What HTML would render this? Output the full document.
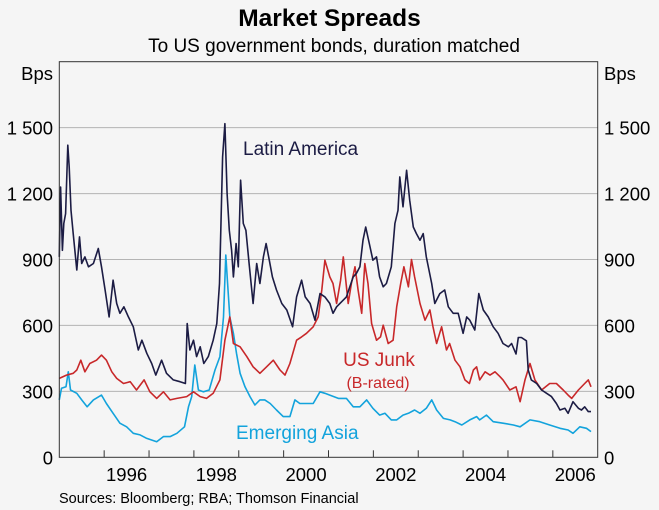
<!DOCTYPE html>
<html><head><meta charset="utf-8"><style>
body{margin:0;background:#f5f5f5;}
svg{display:block;font-family:"Liberation Sans",Arial,sans-serif;}
</style></head><body>
<svg id="chart" width="659" height="510">
<rect x="0" y="0" width="659" height="510" fill="#f5f5f5"/>
<text x="329.5" y="26" text-anchor="middle" font-size="24.5" font-weight="bold" fill="#000">Market Spreads</text>
<text x="334" y="52" text-anchor="middle" font-size="19" fill="#000">To US government bonds, duration matched</text>
<text x="53" y="80" text-anchor="end" font-size="18.5">Bps</text>
<text x="604" y="80" font-size="18.5">Bps</text>
<g id="grid"></g>
<g id="series"></g>
<rect x="59.3" y="61.7" width="538.4" height="395.6" fill="none" stroke="#333" stroke-width="1"/>
<g id="axes"></g>
<text x="243" y="155" font-size="19" fill="#1c1c44">Latin America</text>
<text x="379" y="366" text-anchor="middle" font-size="19" fill="#c8282a">US Junk</text>
<text x="378" y="388" text-anchor="middle" font-size="16" fill="#c8282a">(B-rated)</text>
<text x="236" y="439" font-size="19" fill="#13a3dc">Emerging Asia</text>
<text x="59" y="503" font-size="14.5">Sources: Bloomberg; RBA; Thomson Financial</text>
</svg>
<script>
const yTicks=[0,300,600,900,1200,1500];
const yTickLabels=["0","300","600","900","1 200","1 500"];
const xYears=[1996,1998,2000,2002,2004,2006];
const latinDates=[1995.00,1995.03,1995.07,1995.10,1995.14,1995.19,1995.22,1995.26,1995.31,1995.39,1995.45,1995.50,1995.57,1995.65,1995.76,1995.87,1995.94,1996.02,1996.11,1996.20,1996.28,1996.35,1996.44,1996.54,1996.65,1996.76,1996.84,1996.95,1997.06,1997.15,1997.28,1997.39,1997.54,1997.69,1997.81,1997.85,1997.91,1997.99,1998.06,1998.14,1998.22,1998.32,1998.43,1998.51,1998.57,1998.64,1998.69,1998.74,1998.79,1998.84,1998.88,1998.94,1998.99,1999.04,1999.10,1999.16,1999.23,1999.32,1999.40,1999.47,1999.55,1999.61,1999.68,1999.75,1999.84,1999.96,2000.07,2000.20,2000.29,2000.40,2000.48,2000.59,2000.70,2000.81,2000.92,2001.03,2001.10,2001.18,2001.40,2001.55,2001.62,2001.70,2001.77,2001.83,2001.91,2001.99,2002.07,2002.14,2002.22,2002.29,2002.40,2002.48,2002.55,2002.59,2002.66,2002.74,2002.81,2002.89,2002.96,2003.04,2003.11,2003.18,2003.30,2003.37,2003.48,2003.59,2003.67,2003.78,2003.89,2004.00,2004.08,2004.15,2004.26,2004.35,2004.45,2004.56,2004.67,2004.78,2004.89,2005.01,2005.08,2005.18,2005.23,2005.30,2005.41,2005.45,2005.52,2005.64,2005.75,2005.86,2005.97,2006.08,2006.16,2006.27,2006.34,2006.45,2006.57,2006.64,2006.71,2006.79,2006.85];
const latinValues=[912,1230,942,1064,1109,1420,1321,1124,1018,852,1003,882,912,867,882,950,867,761,639,806,700,655,685,639,594,488,533,473,427,374,442,382,352,344,336,609,488,533,458,503,427,458,533,609,791,1367,1518,1200,1033,942,821,973,867,1261,1064,1033,882,700,882,791,912,973,897,821,761,700,670,594,730,806,730,700,624,745,730,700,655,685,730,821,836,867,988,1048,973,897,912,821,776,791,867,1064,1124,1276,1140,1306,1170,1048,1018,988,1018,912,791,700,745,761,685,655,655,564,639,624,579,745,670,639,594,564,518,503,518,470,545,545,530,397,352,336,306,291,276,245,215,223,200,253,223,215,230,208,208];
const junkDates=[1995.00,1995.16,1995.31,1995.39,1995.48,1995.57,1995.68,1995.83,1995.94,1996.05,1996.17,1996.28,1996.43,1996.58,1996.72,1996.89,1997.02,1997.17,1997.32,1997.47,1997.62,1997.84,1997.99,1998.14,1998.28,1998.43,1998.58,1998.69,1998.80,1998.88,1999.03,1999.18,1999.32,1999.47,1999.62,1999.77,1999.92,2000.03,2000.14,2000.29,2000.40,2000.51,2000.66,2000.77,2000.85,2000.92,2001.03,2001.10,2001.18,2001.27,2001.33,2001.44,2001.51,2001.59,2001.66,2001.74,2001.81,2001.88,2001.96,2002.07,2002.16,2002.22,2002.33,2002.44,2002.52,2002.61,2002.68,2002.78,2002.85,2002.92,2003.04,2003.15,2003.26,2003.33,2003.41,2003.52,2003.63,2003.70,2003.82,2003.93,2004.04,2004.14,2004.23,2004.30,2004.37,2004.49,2004.60,2004.71,2004.82,2004.89,2005.04,2005.18,2005.27,2005.38,2005.49,2005.60,2005.75,2005.93,2006.08,2006.23,2006.34,2006.42,2006.57,2006.71,2006.79,2006.85];
const junkValues=[359,374,382,397,442,389,427,442,465,442,389,359,336,344,306,352,298,268,298,261,268,276,298,276,268,291,352,533,639,518,503,458,412,382,412,442,397,374,427,533,548,564,594,639,761,897,821,791,700,806,912,700,791,867,761,655,882,791,609,533,548,601,518,533,685,791,867,776,900,821,700,624,670,594,518,594,488,518,442,412,352,336,397,412,352,389,374,389,367,352,306,321,253,352,427,352,306,336,336,306,283,268,306,336,352,321,329];
const asiaDates=[1995.00,1995.05,1995.15,1995.20,1995.25,1995.39,1995.50,1995.62,1995.76,1995.94,1996.05,1996.20,1996.35,1996.50,1996.65,1996.80,1996.95,1997.17,1997.32,1997.47,1997.62,1997.79,1997.88,1997.95,1998.02,1998.10,1998.21,1998.34,1998.47,1998.58,1998.66,1998.71,1998.75,1998.80,1998.88,1998.95,1999.03,1999.14,1999.25,1999.36,1999.47,1999.58,1999.70,1999.84,1999.99,2000.14,2000.25,2000.36,2000.51,2000.66,2000.81,2000.92,2001.03,2001.22,2001.40,2001.55,2001.70,2001.85,2001.99,2002.14,2002.26,2002.40,2002.52,2002.66,2002.78,2002.92,2003.04,2003.18,2003.30,2003.41,2003.56,2003.71,2003.82,2003.97,2004.15,2004.30,2004.37,2004.52,2004.67,2004.89,2005.12,2005.27,2005.49,2005.71,2005.93,2006.16,2006.34,2006.45,2006.60,2006.75,2006.85];
const asiaValues=[261,314,321,389,306,291,261,230,261,283,245,200,155,139,109,102,86,71,94,94,109,139,230,276,420,306,298,306,397,458,639,920,791,639,564,473,382,321,276,238,261,261,245,215,185,185,261,245,245,245,298,291,283,268,268,230,230,261,223,192,200,170,170,192,200,215,200,223,261,215,177,170,162,147,170,185,170,192,162,155,147,139,170,162,147,132,124,109,139,132,117,109];

const X0=59.3,X1=597.7,Y0=457.3,Y1=61.7;
const xs=t=>X0+(t-1995)/12*(X1-X0);
const ys=v=>Y0-v/1800*(Y0-Y1);
const NS="http://www.w3.org/2000/svg";
const grid=document.getElementById('grid'),axes=document.getElementById('axes'),series=document.getElementById('series');
function mk(tag,attrs,parent){const e=document.createElementNS(NS,tag);for(const k in attrs)e.setAttribute(k,attrs[k]);parent.appendChild(e);return e;}
yTicks.forEach((v,i)=>{
  if(v>0){const g=mk('line',{x1:X0,x2:X1,y1:ys(v),y2:ys(v),stroke:'#b4b4b4','stroke-width':1},grid);
  
  }
  const l=mk('text',{x:53,y:ys(v)+7,'text-anchor':'end','font-size':18.5},axes);l.textContent=yTickLabels[i];
  
  
  const r=mk('text',{x:604,y:ys(v)+7,'font-size':18.5},axes);r.textContent=yTickLabels[i];
  
  
});
for(let y=1996;y<=2006;y++){
  const t=mk('line',{x1:xs(y),x2:xs(y),y1:Y0,y2:Y0-7,stroke:'#333','stroke-width':1},axes);
  
  
}
xYears.forEach(y=>{
  const l=mk('text',{x:xs(y+0.5),y:481,'text-anchor':'middle','font-size':18.5},axes);l.textContent=y;
  
  
});
function line(d,v,color,name){
  const p=d.map((t,i)=>(i?'L':'M')+xs(t).toFixed(1)+','+ys(v[i]).toFixed(1)).join('');
  const e=mk('path',{d:p,fill:'none',stroke:color,'stroke-width':1.6,'stroke-linejoin':'round'},series);
  
  
}
line(asiaDates,asiaValues,'#13a3dc','emerging-asia-line');
line(junkDates,junkValues,'#c8282a','us-junk-line');
line(latinDates,latinValues,'#1c1c44','latin-america-line');
</script>
</body></html>
